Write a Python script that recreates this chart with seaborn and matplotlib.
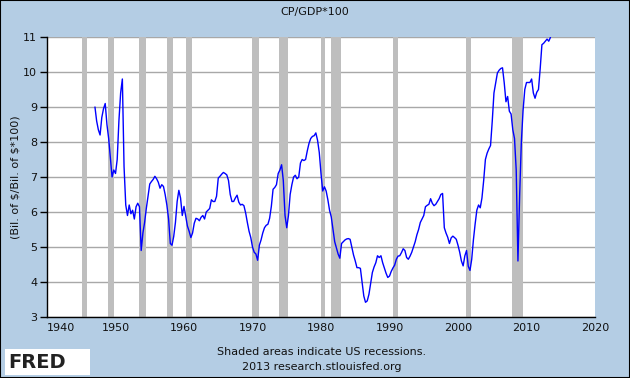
import pandas as pd
import matplotlib
matplotlib.use("Agg")
import matplotlib.pyplot as plt
from matplotlib.patches import Rectangle
import seaborn as sns

# Série trimestral CP/GDP*100, começa em 1947T1
inicio = "1947-01-01"
cp_gdp = [
    9.0, 8.6, 8.35, 8.2,      # 1947
    8.7, 8.95, 9.1, 8.5,      # 1948
    8.1, 7.55, 7.0, 7.2,      # 1949
    7.1, 7.5, 8.6, 9.4,       # 1950
    9.8, 7.3, 6.2, 5.9,       # 1951
    6.2, 5.95, 6.05, 5.8,     # 1952
    6.15, 6.25, 6.15, 4.9,    # 1953
    5.4, 5.7, 6.1, 6.45,      # 1954
    6.8, 6.87, 6.93, 7.02,    # 1955
    6.95, 6.85, 6.68, 6.78,   # 1956
    6.73, 6.5, 6.2, 5.8,      # 1957
    5.1, 5.05, 5.3, 5.7,      # 1958
    6.3, 6.62, 6.4, 5.9,      # 1959
    6.16, 5.88, 5.6, 5.45,    # 1960
    5.27, 5.4, 5.68, 5.82,    # 1961
    5.8, 5.75, 5.85, 5.9,     # 1962
    5.8, 6.0, 6.05, 6.1,      # 1963
    6.35, 6.3, 6.3, 6.45,     # 1964
    6.97, 7.02, 7.08, 7.13,   # 1965
    7.1, 7.06, 6.9, 6.5,      # 1966
    6.3, 6.3, 6.4, 6.48,      # 1967
    6.28, 6.2, 6.22, 6.18,    # 1968
    5.97, 5.7, 5.45, 5.27,    # 1969
    5.0, 4.85, 4.8, 4.62,     # 1970
    5.05, 5.2, 5.4, 5.55,     # 1971
    5.62, 5.65, 5.82, 6.16,   # 1972
    6.65, 6.7, 6.78, 7.1,     # 1973
    7.2, 7.35, 6.9, 5.9,      # 1974
    5.55, 5.9, 6.5, 6.78,     # 1975
    7.0, 7.05, 6.95, 7.0,     # 1976
    7.4, 7.5, 7.47, 7.5,      # 1977
    7.75, 7.96, 8.1, 8.16,    # 1978
    8.18, 8.26, 8.05, 7.7,    # 1979
    7.1, 6.6, 6.72, 6.6,      # 1980
    6.35, 6.05, 5.86, 5.5,    # 1981
    5.15, 4.97, 4.8, 4.68,    # 1982
    5.1, 5.15, 5.2, 5.23,     # 1983
    5.24, 5.22, 5.0, 4.77,    # 1984
    4.6, 4.41, 4.41, 4.39,    # 1985
    4.0, 3.6, 3.42, 3.46,     # 1986
    3.65, 3.95, 4.27, 4.43,   # 1987
    4.55, 4.75, 4.7, 4.75,    # 1988
    4.55, 4.4, 4.25, 4.13,    # 1989
    4.17, 4.3, 4.4, 4.48,     # 1990
    4.65, 4.74, 4.75, 4.84,   # 1991
    4.95, 4.9, 4.7, 4.65,     # 1992
    4.74, 4.85, 5.0, 5.15,    # 1993
    5.35, 5.5, 5.7, 5.8,      # 1994
    5.9, 6.15, 6.19, 6.22,    # 1995
    6.38, 6.25, 6.18, 6.22,   # 1996
    6.3, 6.38, 6.5, 6.53,     # 1997
    5.55, 5.4, 5.28, 5.1,     # 1998
    5.26, 5.31, 5.27, 5.22,   # 1999
    5.05, 4.85, 4.6, 4.46,    # 2000
    4.75, 4.9, 4.45, 4.33,    # 2001
    4.65, 5.2, 5.65, 6.05,    # 2002
    6.2, 6.12, 6.4, 6.9,      # 2003
    7.5, 7.68, 7.8, 7.9,      # 2004
    8.6, 9.4, 9.69, 9.97,     # 2005
    10.05, 10.1, 10.12, 9.69, # 2006
    9.15, 9.3, 8.88, 8.8,     # 2007
    8.35, 8.1, 7.2, 4.6,      # 2008
    6.5, 8.0, 8.9, 9.5,       # 2009
    9.7, 9.7, 9.7, 9.8,       # 2010
    9.4, 9.25, 9.42, 9.5,     # 2011
    10.1, 10.78, 10.82, 10.88,  # 2012
    10.94, 10.88, 10.99,      # 2013
]

# Recessões NBER (sombreado, do mês do pico até o fim do mês do vale)
recessoes_inicio = ["1945-02-01", "1948-11-01", "1953-07-01", "1957-08-01",
                    "1960-04-01", "1969-12-01", "1973-11-01", "1980-01-01",
                    "1981-07-01", "1990-07-01", "2001-03-01", "2007-12-01"]
recessoes_fim = ["1945-11-01", "1949-11-01", "1954-06-01", "1958-05-01",
                 "1961-03-01", "1970-12-01", "1975-04-01", "1980-08-01",
                 "1982-12-01", "1991-04-01", "2001-12-01", "2009-07-01"]

anos_ticks = list(range(1940, 2021, 10))
y_ticks = list(range(3, 12))

# mini-gráfico do logo
logo_verde = [1, 2, 1.5, 3, 2.5, 4]
logo_azul = [0.5, 1.5, 2.5, 2, 3.5, 3]

BG = "#B4CDE4"

sns.set_style("white")
plt.rcParams["font.family"] = ["DejaVu Sans"]

df = pd.DataFrame({
    "data": pd.date_range(inicio, periods=len(cp_gdp), freq="QS"),
    "valor": cp_gdp,
})

fig = plt.figure(figsize=(6.3, 3.78), dpi=100, facecolor=BG)
ax = fig.add_axes([47 / 630, 1 - 317 / 378, 548 / 630, 280 / 378])
ax.set_facecolor("white")

# 1. Faixas de recessão
for ini, fim in zip(recessoes_inicio, recessoes_fim):
    ax.axvspan(pd.Timestamp(ini), pd.Timestamp(fim), color="#BEBEBE", lw=0, zorder=1)

# 2. Linha
sns.lineplot(data=df, x="data", y="valor", ax=ax, color="#0000FF", lw=1.0, zorder=3)

# 3. Eixos
ax.set_xlim(pd.Timestamp("1940-01-01"), pd.Timestamp("2020-01-01"))
ax.set_ylim(3, 11)
ax.set_xticks([pd.Timestamp(f"{a}-01-01") for a in anos_ticks])
ax.set_xticklabels([str(a) for a in anos_ticks])
ax.get_xticklabels()[0].set_horizontalalignment("left")
ax.set_yticks(y_ticks)
ax.set_yticklabels([str(v) for v in y_ticks])
ax.yaxis.grid(True, color="#A8A8A8", lw=1.0, zorder=0)
ax.xaxis.grid(False)
ax.set_axisbelow(True)

ax.tick_params(axis="x", direction="in", length=5, width=1, color="black",
               pad=4, labelsize=8, labelcolor="#111111")
ax.tick_params(axis="y", direction="out", length=5, width=1, color="black",
               pad=2, labelsize=8, labelcolor="#111111", left=True)
for s in ["top", "right"]:
    ax.spines[s].set_visible(False)
for s in ["left", "bottom"]:
    ax.spines[s].set_color("black")
    ax.spines[s].set_linewidth(1.0)

ax.set_xlabel("")
ax.set_ylabel("(Bil. of \\$/Bil. of \\$*100)", fontsize=8, color="#111111")
ax.yaxis.set_label_coords(-26 / 548, 0.5)

# 4. Textos
fig.text(0.5, 1 - 12 / 378, "CP/GDP*100", ha="center", va="center",
         fontsize=8, color="#111111")
fig.text(322 / 630, 1 - 352 / 378, "Shaded areas indicate US recessions.",
         ha="center", va="center", fontsize=8, color="#111111")
fig.text(322 / 630, 1 - 367 / 378, "2013 research.stlouisfed.org",
         ha="center", va="center", fontsize=8, color="#111111")

# 5. Logo FRED
fig.patches.append(Rectangle((5 / 630, 1 - 375 / 378), 85 / 630, 26 / 378,
                             transform=fig.transFigure, facecolor="white",
                             edgecolor="none", zorder=1))
fig.text(8 / 630, 1 - 362 / 378, "FRED", ha="left", va="center",
         fontsize=14, fontweight="bold", color="#222222", zorder=2)
ax_logo = fig.add_axes([70 / 630, 1 - 373 / 378, 18 / 630, 20 / 378])
ax_logo.plot(logo_verde, color="#6DBE45", lw=0.8)
ax_logo.plot(logo_azul, color="#4A7EBB", lw=0.8)
ax_logo.set_facecolor("#F2F2F2")
ax_logo.set_xticks([])
ax_logo.set_yticks([])
for s in ax_logo.spines.values():
    s.set_visible(False)

# 6. Moldura
fig.patches.append(Rectangle((0, 0), 1, 1, transform=fig.transFigure,
                             fill=False, edgecolor="black", lw=1.5, zorder=5))

fig.savefig("out.png", dpi=100, facecolor=fig.get_facecolor())
